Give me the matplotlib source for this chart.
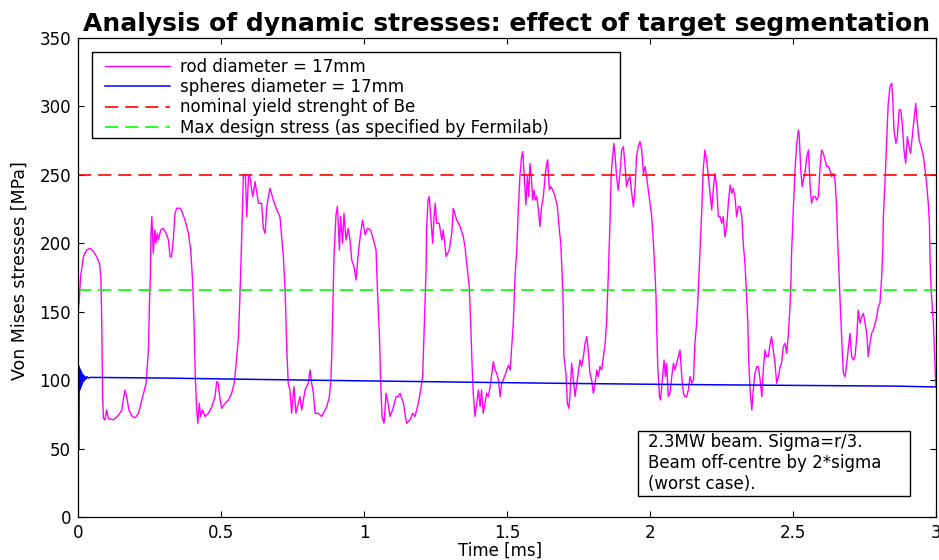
import matplotlib
matplotlib.use("Agg")
import matplotlib.pyplot as plt
from matplotlib.patches import Rectangle

plt.rcParams['font.family'] = ['DejaVu Sans']
plt.rcParams['lines.scale_dashes'] = False

# rod diameter = 17mm : time [ms], Von Mises stress [MPa]
rod_t = [0.000, 0.0035, 0.009, 0.019, 0.030, 0.042, 0.054, 0.065, 0.075, 0.080, 0.083, 0.086, 0.089, 0.094,
         0.100, 0.106, 0.124, 0.140, 0.153, 0.160, 0.164, 0.170, 0.178, 0.190, 0.200, 0.212, 0.223, 0.238,
         0.246, 0.250, 0.253, 0.255, 0.258,
         0.263, 0.269, 0.272, 0.277, 0.281, 0.289, 0.298, 0.308, 0.316, 0.322, 0.327, 0.333, 0.339, 0.345,
         0.357, 0.363, 0.374, 0.386, 0.394, 0.401, 0.406, 0.410, 0.415, 0.419, 0.424, 0.429, 0.436, 0.444,
         0.456, 0.468, 0.479, 0.485, 0.490, 0.497, 0.502, 0.514, 0.526, 0.537, 0.546, 0.552, 0.561, 0.566,
         0.571, 0.575, 0.578,
         0.585, 0.590, 0.596, 0.601, 0.611, 0.619, 0.631, 0.642, 0.648, 0.654, 0.660, 0.671, 0.683, 0.695,
         0.706, 0.718, 0.724, 0.730, 0.735,
         0.741, 0.747, 0.755, 0.762, 0.770, 0.776, 0.782, 0.794, 0.805, 0.811, 0.817, 0.823, 0.829, 0.840,
         0.852, 0.858, 0.870, 0.879, 0.884, 0.887, 0.891, 0.895, 0.902, 0.907, 0.914, 0.918, 0.925, 0.930,
         0.937, 0.945, 0.951, 0.957, 0.965, 0.972, 0.980, 0.988, 0.995, 1.004, 1.012, 1.023, 1.033, 1.042,
         1.047, 1.054, 1.058, 1.063, 1.070, 1.077, 1.084, 1.091, 1.100, 1.112, 1.120, 1.126, 1.138, 1.143,
         1.149, 1.161, 1.170, 1.178, 1.190, 1.198, 1.205, 1.211, 1.217, 1.219, 1.224, 1.228, 1.233, 1.240,
         1.245, 1.249, 1.254, 1.263, 1.272, 1.277, 1.287, 1.298, 1.307, 1.312, 1.324, 1.336, 1.347, 1.353,
         1.359, 1.368, 1.373, 1.378, 1.382, 1.388, 1.394, 1.400, 1.406, 1.411, 1.417, 1.429, 1.435, 1.441,
         1.447, 1.452, 1.458, 1.464, 1.470, 1.476, 1.481, 1.487, 1.499, 1.505,
         1.511, 1.522, 1.528, 1.534, 1.540, 1.545, 1.551, 1.555, 1.559, 1.563, 1.566, 1.571, 1.576, 1.580,
         1.585, 1.590, 1.594, 1.599, 1.604, 1.610, 1.615, 1.621, 1.627, 1.633, 1.639, 1.642, 1.648, 1.653,
         1.660, 1.668, 1.676, 1.683, 1.688, 1.692, 1.695, 1.697, 1.699, 1.706, 1.711, 1.716, 1.720, 1.726,
         1.732, 1.738, 1.744, 1.749, 1.755, 1.761, 1.767, 1.773, 1.779, 1.784, 1.790, 1.796, 1.802, 1.808,
         1.814, 1.819, 1.825, 1.831, 1.837, 1.843, 1.848, 1.854, 1.860, 1.864, 1.869, 1.874, 1.879, 1.883,
         1.889, 1.895, 1.901, 1.907, 1.913, 1.918, 1.924, 1.930, 1.936, 1.942, 1.948, 1.953, 1.959, 1.965,
         1.971, 1.977, 1.983, 1.988, 1.994, 2.000, 2.006, 2.012, 2.018, 2.021, 2.023, 2.027, 2.033, 2.037,
         2.044, 2.049, 2.054, 2.058, 2.064, 2.070, 2.076, 2.082, 2.087, 2.093, 2.099, 2.105, 2.111, 2.117,
         2.122, 2.128, 2.134, 2.140, 2.146, 2.152, 2.157, 2.163, 2.169, 2.175, 2.181, 2.186, 2.192, 2.198,
         2.204, 2.210, 2.216, 2.221, 2.227, 2.233, 2.239,
         2.245, 2.251, 2.256, 2.262, 2.268, 2.274, 2.280, 2.286, 2.291, 2.297, 2.303, 2.309, 2.315, 2.321,
         2.326, 2.332, 2.338, 2.342, 2.345, 2.350, 2.356, 2.361, 2.367, 2.373, 2.379, 2.385, 2.391, 2.396,
         2.402, 2.408, 2.414, 2.420, 2.425, 2.431, 2.437, 2.443, 2.449, 2.455, 2.460, 2.466, 2.472, 2.478,
         2.484, 2.490, 2.493, 2.495, 2.501, 2.507, 2.513, 2.519, 2.522, 2.527, 2.532, 2.536, 2.542, 2.548,
         2.554, 2.560, 2.565, 2.571, 2.577, 2.583, 2.589, 2.594, 2.600, 2.606, 2.612, 2.618, 2.624, 2.629,
         2.635, 2.641, 2.647, 2.653, 2.656, 2.660, 2.664, 2.670, 2.676, 2.682, 2.688, 2.694, 2.699, 2.705,
         2.711, 2.717, 2.723, 2.728, 2.734, 2.740, 2.746, 2.752, 2.758, 2.763, 2.769, 2.775, 2.781, 2.787,
         2.793, 2.798, 2.804, 2.810, 2.814, 2.816, 2.822, 2.828, 2.833, 2.839, 2.845, 2.849, 2.853, 2.860,
         2.865, 2.871, 2.877, 2.882, 2.888, 2.894, 2.900, 2.906, 2.911, 2.917, 2.923, 2.929, 2.935, 2.941,
         2.948, 2.956, 2.962, 2.967, 2.973, 2.977, 2.979, 2.983, 2.986, 2.991, 2.997, 3.000]
rod_v = [150.0, 156.0, 175.6, 190.2, 195.1, 196.3, 194.0, 190.2, 185.4, 175.0, 141.5, 87.9, 72.1, 70.9,
         78.2, 72.0, 71.0, 74.0, 78.0, 88.0, 92.8, 88.0, 78.0, 73.4, 72.5, 76.0, 85.5, 97.7,
         122.0, 158.6, 175.0, 207.0, 219.4,
         192.7, 209.7, 200.0, 207.3, 202.4, 209.7, 210.9, 207.3, 202.4, 190.2, 190.2, 202.4, 221.9, 225.6,
         225.6, 223.2, 217.0, 207.3, 195.1, 170.7, 139.0, 102.5, 78.2, 68.5, 83.0, 73.4, 78.2, 73.4,
         75.8, 80.6, 88.0, 98.9, 97.7, 85.5, 79.4, 83.0, 85.5, 90.4, 97.7, 109.8, 131.7, 161.0,
         195.1, 226.7, 249.2,
         250.0, 219.4, 249.0, 248.7, 234.0, 245.0, 229.2, 229.2, 210.9, 207.3, 226.7, 240.2, 231.6, 224.3,
         219.4, 190.2, 165.9, 122.0, 97.7,
         92.8, 75.8, 95.3, 75.8, 83.1, 88.0, 78.2, 92.8, 97.7, 107.5, 97.7, 90.4, 75.8, 75.8,
         73.4, 75.8, 80.7, 88.0, 100.1, 117.2, 153.7, 190.3, 220.7, 226.8, 195.1, 219.5, 200.0, 221.9,
         202.4, 210.9, 202.4, 187.8, 183.0, 173.2, 192.7, 207.3, 217.0, 206.1, 210.9, 209.7, 202.4, 195.1,
         165.9, 131.8, 100.1, 73.4, 68.5, 90.4, 83.1, 73.4, 78.2, 88.0, 88.0, 90.4, 83.1, 75.8,
         68.5, 70.9, 75.8, 73.4, 83.1, 92.8, 102.6, 141.5, 180.5, 212.2, 231.7, 234.1, 219.5, 200.0,
         219.5, 229.2, 214.6, 214.6, 202.4, 209.7, 190.3, 195.1, 207.3, 225.6, 217.0, 212.2, 204.9, 197.6,
         185.4, 168.3, 141.5, 109.9, 90.4, 73.4, 83.1, 92.8, 80.7, 92.8, 75.8, 90.4, 88.0, 95.3,
         105.0, 113.5, 107.5, 105.0, 100.1, 88.0, 97.7, 100.1, 107.5, 111.0,
         107.4, 141.5, 175.6, 195.1, 226.8, 248.7, 263.3, 267.0, 253.6, 238.9, 228.0, 248.7, 234.1, 258.4,
         248.7, 231.6, 238.9, 231.6, 234.1, 224.3, 212.2, 226.8, 234.1, 248.7, 258.4, 260.9, 238.9, 241.4,
         238.9, 234.1, 226.8, 209.7, 200.0, 180.5, 165.9, 146.4, 117.2, 105.0, 83.1, 79.4, 88.0, 112.3,
         100.1, 88.0, 97.7, 105.0, 114.7, 109.9, 117.2, 126.9, 131.8, 122.0, 105.0, 100.1, 90.4, 97.7,
         107.4, 102.6, 109.9, 107.4, 117.2, 126.9, 141.5, 175.6, 214.6, 248.7, 263.3, 273.0, 260.9, 248.7,
         238.9, 251.1, 268.2, 270.6, 256.0, 241.4, 246.3, 248.7, 236.5, 226.8, 241.4, 263.3, 270.6, 274.3,
         268.2, 251.1, 256.0, 248.7, 238.9, 229.2, 219.5, 200.0, 175.6, 161.0, 141.5, 109.9, 88.0, 85.5,
         102.6, 114.7, 102.6, 112.3, 88.0, 90.4, 102.6, 112.3, 107.4, 112.3, 117.2, 122.0, 102.6, 90.4,
         88.0, 88.0, 92.8, 102.6, 97.7, 100.1, 126.9, 141.5, 165.9, 195.1, 224.3, 253.6, 268.2, 260.9,
         248.7, 236.5, 224.3, 238.9, 251.1, 241.4, 219.5,
         219.4, 214.6, 219.4, 204.8, 212.1, 229.2, 242.6, 236.5, 240.1, 234.1, 219.4, 226.7, 226.7, 219.4,
         200.0, 185.3, 161.0, 141.5, 114.7, 92.8, 78.2, 92.8, 105.0, 109.8, 109.8, 100.1, 87.9, 107.4,
         122.0, 117.2, 117.2, 126.9, 131.8, 122.0, 112.3, 97.7, 102.5, 109.8, 112.3, 124.5, 126.9, 119.6,
         134.2, 156.1, 173.2, 192.6, 224.3, 253.5, 273.0, 282.8, 277.9, 253.5, 241.4, 246.2, 251.1, 263.3,
         268.1, 241.4, 229.2, 234.1, 234.1, 231.6, 234.1, 253.5, 268.1, 265.7, 260.8, 256.0, 256.0, 253.5,
         248.7, 251.1, 246.2, 224.3, 202.4, 182.9, 161.0, 131.8, 105.0, 102.5, 112.3, 124.5, 134.2, 117.2,
         114.7, 117.2, 131.8, 151.2, 141.5, 146.4, 148.8, 141.5, 134.2, 117.2, 126.9, 134.2, 136.6, 141.5,
         146.4, 153.7, 156.1, 175.6, 195.1, 219.4, 246.2, 277.9, 302.2, 314.4, 316.9, 304.7, 282.8, 273.0,
         277.9, 297.4, 297.4, 287.6, 268.1, 258.4, 277.9, 270.6, 265.7, 277.9, 290.1, 302.2, 287.6, 275.5,
         270.6, 263.3, 253.5, 243.8, 229.2, 214.6, 190.3, 166.0, 156.1, 141.5, 107.4, 95.0]

# spheres diameter = 17mm
sph_t = [0.003, 0.004, 0.006, 0.008, 0.010, 0.012, 0.014, 0.017, 0.020, 0.023, 0.027, 0.031, 0.036, 0.043,
         0.31, 0.63, 0.95, 1.29, 1.63, 1.99, 2.41, 2.87, 3.00]
sph_v = [50.0, 110.0, 93.0, 108.0, 95.0, 106.0, 97.0, 104.0, 99.0, 103.0, 100.5, 102.5, 101.5, 102.0,
         101.5, 100.5, 99.6, 98.7, 97.8, 97.0, 96.3, 95.6, 95.0]

yield_be = 250.0        # nominal yield strength of Be
max_design = 166.0      # max design stress (Fermilab)

labels = ['rod diameter = 17mm', 'spheres diameter = 17mm',
          'nominal yield strenght of Be', 'Max design stress (as specified by Fermilab)']
note = '2.3MW beam. Sigma=r/3.\nBeam off-centre by 2*sigma\n(worst case).'

fig = plt.figure(figsize=(9.39, 5.6), dpi=100)
ax = fig.add_axes([0.0831, 0.0768, 0.9137, 0.8554])

ax.plot(rod_t, rod_v, color='#ff00ff', lw=1.0, label=labels[0])
ax.plot(sph_t, sph_v, color='#0000ff', lw=1.1, label=labels[1])
ax.axhline(yield_be, color='#ff0000', lw=1.2, dashes=(9.5, 5), label=labels[2])
ax.axhline(max_design, color='#00ff00', lw=1.2, dashes=(9.5, 5), label=labels[3])

ax.set_xlim(0, 3)
ax.set_ylim(0, 350)
ax.set_xticks([0, 0.5, 1, 1.5, 2, 2.5, 3])
ax.set_xticklabels(['0', '0.5', '1', '1.5', '2', '2.5', '3'])
ax.set_yticks(range(0, 351, 50))
ax.tick_params(direction='in', top=True, right=True, length=4.5, width=0.8,
               labelsize=12, pad=5, colors='black')
for s in ax.spines.values():
    s.set_linewidth(0.9)

ax.set_title('Analysis of dynamic stresses: effect of target segmentation',
             fontsize=18, fontweight='bold', pad=5)
ax.set_ylabel('Von Mises stresses [MPa]', fontsize=12.5)
ax.yaxis.set_label_coords(-0.057, 0.515)
ax.set_xlabel('Time [ms]', fontsize=12)
ax.xaxis.set_label_coords(0.492, -0.051)

# legend frame drawn separately (it is wider than the text, as in the original)
ax.add_patch(Rectangle((0.0163, 0.7912), 0.6154, 0.1796, transform=ax.transAxes,
                       facecolor='white', edgecolor='black', lw=1.0, zorder=5))
leg = ax.legend(loc='upper left', bbox_to_anchor=(0.0315, 0.958), borderaxespad=0,
                frameon=False, fontsize=12, handlelength=3.9, handletextpad=0.6,
                labelspacing=0.13, borderpad=0)
leg.set_zorder(6)

ax.add_patch(Rectangle((0.6527, 0.0438), 0.317, 0.1357, transform=ax.transAxes,
                       facecolor='white', edgecolor='black', lw=1.0, zorder=5))
ax.text(0.6643, 0.1754, note, transform=ax.transAxes, fontsize=12, va='top', ha='left',
        linespacing=1.2, zorder=6)

fig.savefig('out.png', dpi=100)
